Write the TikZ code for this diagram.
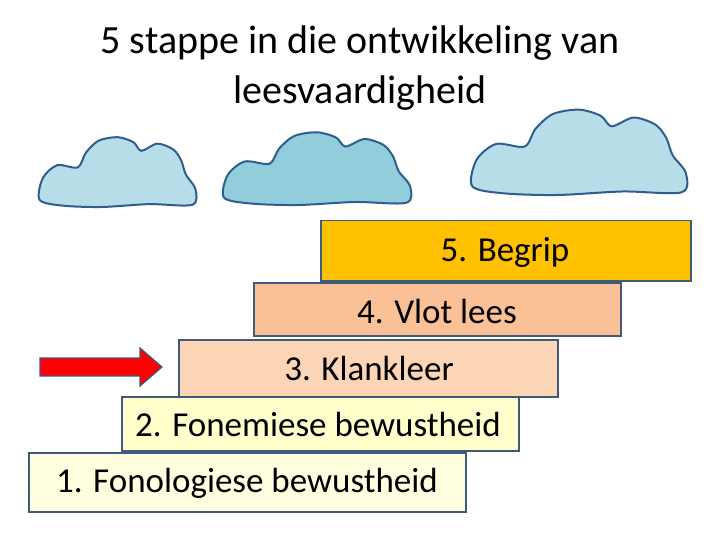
\documentclass[tikz,border=0pt]{standalone}
\usepackage{fontspec}
\setmainfont{Carlito}
\begin{document}
\begin{tikzpicture}[x=1pt,y=-1pt,
  step box/.style={draw=bordc,line width=1.5pt},
  lbl/.style={font=\fontsize{35}{40}\selectfont,text=black},
  cloudline/.style={draw=cloudb,line width=2pt}]
\definecolor{bordc}{HTML}{3F5A7A}
\definecolor{cloudb}{HTML}{2F5E8E}
\definecolor{c1}{HTML}{B7DEE8}
\definecolor{c2}{HTML}{92CDDC}
\useasboundingbox (0,0) rectangle (720,540);
\node[font=\fontsize{40}{50}\selectfont,align=center] (title) at (360,68) {5 stappe in die ontwikkeling van\\leesvaardigheid};
\def\cloudpath{plot[smooth cycle,tension=0.5] coordinates {(0.01,0.9) (0.03,0.6) (0.12,0.42) (0.25,0.45) (0.3,0.25) (0.38,0.08) (0.5,0.03) (0.6,0.1) (0.65,0.22) (0.75,0.12) (0.85,0.2) (0.9,0.35) (0.93,0.55) (0.99,0.75) (0.97,0.97) (0.7,0.96) (0.4,1.0) (0.15,0.98)}}
\begin{scope}[shift={(38,135)},xscale=159,yscale=72]
\path[cloudline,fill=c1] \cloudpath;
\end{scope}
\begin{scope}[shift={(222,130)},xscale=190,yscale=75]
\path[cloudline,fill=c2] \cloudpath;
\end{scope}
\begin{scope}[shift={(470,107)},xscale=218,yscale=88]
\path[cloudline,fill=c1] \cloudpath;
\end{scope}
\node[step box,fill={rgb,255:red,255;green,192;blue,0},minimum width=370pt,minimum height=60pt,anchor=north west] (s5) at (320,220) {};
\node[lbl] at (505,252) {5. Begrip};
\node[step box,fill={rgb,255:red,250;green,192;blue,150},minimum width=367pt,minimum height=53pt,anchor=north west] (s4) at (253,282) {};
\node[lbl] at (437,311) {4. Vlot lees};
\node[step box,fill={rgb,255:red,251;green,213;blue,181},minimum width=379pt,minimum height=57pt,anchor=north west] (s3) at (178,339) {};
\node[lbl] at (369,368) {3. Klankleer};
\node[step box,fill={rgb,255:red,255;green,255;blue,204},minimum width=397pt,minimum height=54pt,anchor=north west] (s2) at (121,396) {};
\node[lbl] at (318,424) {2. Fonemiese bewustheid};
\node[step box,fill={rgb,255:red,255;green,255;blue,224},minimum width=437pt,minimum height=59pt,anchor=north west] (s1) at (28,452) {};
\node[lbl] at (247,483) {1. Fonologiese bewustheid};
\draw[fill=red,draw=bordc,line width=1.2pt] (40,358) -- (140,358) -- (140,348) -- (162,367) -- (140,386) -- (140,376) -- (40,376) -- cycle;
\end{tikzpicture}
\end{document}
